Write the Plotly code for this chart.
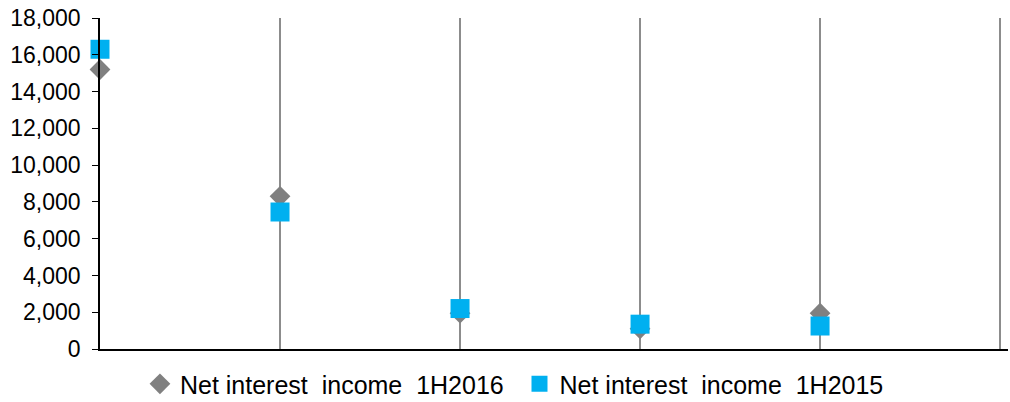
import plotly.graph_objects as go

categories = [0, 1, 2, 3, 4]
nii_1h2016 = [15200, 8300, 1950, 1100, 1950]
nii_1h2015 = [16300, 7450, 2200, 1350, 1250]
y_ticks = [0, 2000, 4000, 6000, 8000, 10000, 12000, 14000, 16000, 18000]

fig = go.Figure()
fig.add_trace(go.Scatter(
    x=categories, y=nii_1h2016, mode="markers", name="Net interest  income  1H2016",
    marker=dict(symbol="diamond", size=16, color="#808080"), cliponaxis=False,
    legend="legend"))
fig.add_trace(go.Scatter(
    x=categories, y=nii_1h2015, mode="markers", name="Net interest  income  1H2015",
    marker=dict(symbol="square", size=19, color="#00B0F0"), cliponaxis=False,
    legend="legend2"))

fig.update_layout(
    width=1010, height=402,
    margin=dict(l=100, r=2, t=18, b=53, autoexpand=False),
    paper_bgcolor="white", plot_bgcolor="white",
    font=dict(family="Liberation Sans, Arial, sans-serif", size=23, color="black"),
    showlegend=True,
    legend=dict(orientation="h", x=0.044, xanchor="left", y=-0.106, yanchor="middle",
                font=dict(size=25), itemwidth=30, bgcolor="rgba(0,0,0,0)"),
    legend2=dict(orientation="h", x=0.462, xanchor="left", y=-0.106, yanchor="middle",
                 font=dict(size=25), itemwidth=30, bgcolor="rgba(0,0,0,0)"),
)
fig.update_xaxes(range=[0, 5.044], tickvals=[1, 2, 3, 4, 5], showticklabels=False,
                 showgrid=True, gridcolor="#8c8c8c", gridwidth=1.5,
                 showline=True, linecolor="black", linewidth=1.5, ticks="",
                 zeroline=False, automargin=False)
fig.update_yaxes(range=[0, 18000], tickvals=y_ticks, tickformat=",",
                 showgrid=False, showline=True, linecolor="black", linewidth=1.5,
                 ticks="outside", ticklen=6, tickcolor="black", zeroline=False,
                 automargin=False, ticklabelstandoff=7, ticklabeloverflow="allow")

# remove the default 8px page margin so the 1010x402 figure fills the window
fig.write_html("out.html", config={"displayModeBar": False},
               post_script="document.body.style.margin='0';")
